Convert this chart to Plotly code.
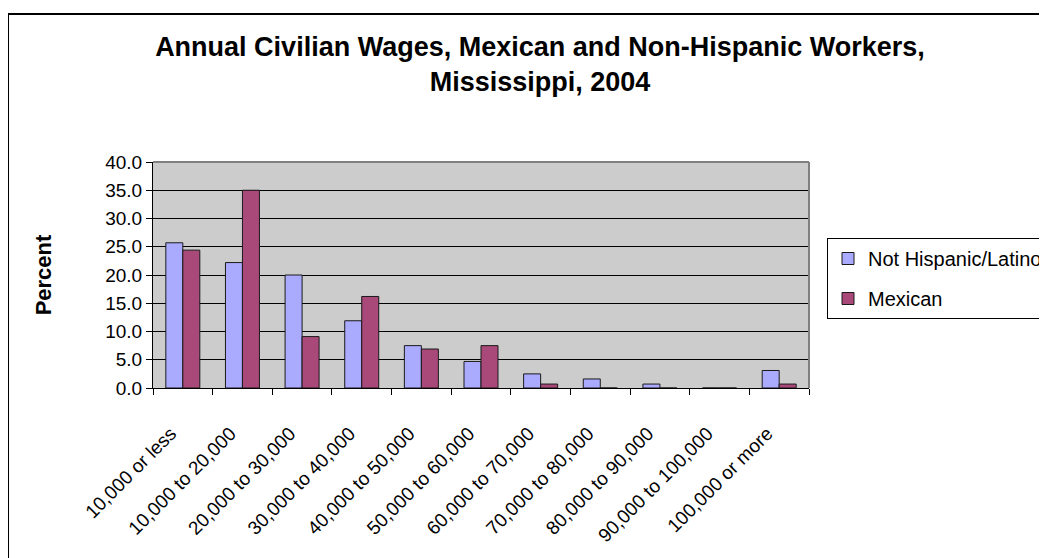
import plotly.graph_objects as go

categories = ["10,000 or less", "10,000 to 20,000", "20,000 to 30,000", "30,000 to 40,000",
              "40,000 to 50,000", "50,000 to 60,000", "60,000 to 70,000", "70,000 to 80,000",
              "80,000 to 90,000", "90,000 to 100,000", "100,000 or more"]
not_hispanic = [25.7, 22.2, 20.0, 11.9, 7.5, 4.7, 2.5, 1.6, 0.7, 0.0, 3.1]
mexican = [24.4, 35.0, 9.1, 16.2, 6.9, 7.5, 0.7, 0.0, 0.0, 0.0, 0.7]
y_ticks = [0, 5, 10, 15, 20, 25, 30, 35, 40]

FONT = "Liberation Sans, Arial, sans-serif"

fig = go.Figure()
fig.add_trace(go.Bar(x=categories, y=not_hispanic, name="Not Hispanic/Latino",
                     marker=dict(color="#AAAAFF", line=dict(color="#1a1a1a", width=1)),
                     legendgroup="a"))
fig.add_trace(go.Bar(x=categories, y=mexican, name="Mexican",
                     marker=dict(color="#A8497A", line=dict(color="#1a1a1a", width=1)),
                     legendgroup="b"))

# page body has an 8px margin, so the figure is drawn from (8, 8)
fig.update_layout(
    width=1039, height=550,
    font=dict(family=FONT, size=19, color="#000000"),
    paper_bgcolor="#ffffff",
    plot_bgcolor="#CCCCCC",
    margin=dict(l=145, r=238, t=154, b=164),
    barmode="group", bargap=0.43, bargroupgap=0,
    title=dict(text="Annual Civilian Wages, Mexican and Non-Hispanic Workers,<br>Mississippi, 2004",
               font=dict(size=27, family=FONT, color="#000000", weight="bold"),
               x=0.512, xanchor="center", xref="container",
               y=1 - 48 / 550, yanchor="top", yref="container"),
    legend=dict(x=819 / 1039, xanchor="left", xref="container",
                y=1 - 230 / 550, yanchor="top", yref="container",
                bgcolor="#ffffff", bordercolor="#000000", borderwidth=1,
                font=dict(size=20, family=FONT, color="#000000"),
                traceorder="grouped", tracegroupgap=11),
    shapes=[
        dict(type="rect", xref="paper", yref="paper", x0=-0.221, x1=1.6, y0=-1.0, y1=1.655,
             line=dict(color="#000000", width=2), layer="below"),
        dict(type="line", xref="paper", yref="paper", x0=0, x1=1, y0=1, y1=1,
             line=dict(color="#808080", width=2)),
        dict(type="line", xref="paper", yref="paper", x0=1, x1=1, y0=0, y1=1,
             line=dict(color="#808080", width=2)),
    ],
)

fig.update_xaxes(tickangle=-45, tickson="boundaries", ticks="outside", ticklen=6,
                 tickcolor="#000000", showline=True, linecolor="#000000", linewidth=1,
                 showgrid=False, ticklabelstandoff=26, ticklabelshift=-12,
                 tickfont=dict(size=19, family=FONT, color="#000000"))
fig.update_yaxes(range=[0, 40], tickvals=y_ticks, tickformat=".1f", ticks="outside",
                 ticklen=6, tickcolor="#000000", showline=True, linecolor="#000000",
                 linewidth=1, showgrid=True, gridcolor="#000000", gridwidth=1,
                 zeroline=False,
                 title=dict(text="<b>Percent</b>", font=dict(size=22, family=FONT), standoff=47),
                 tickfont=dict(size=19, family=FONT, color="#000000"))

fig.write_html("out.html")
